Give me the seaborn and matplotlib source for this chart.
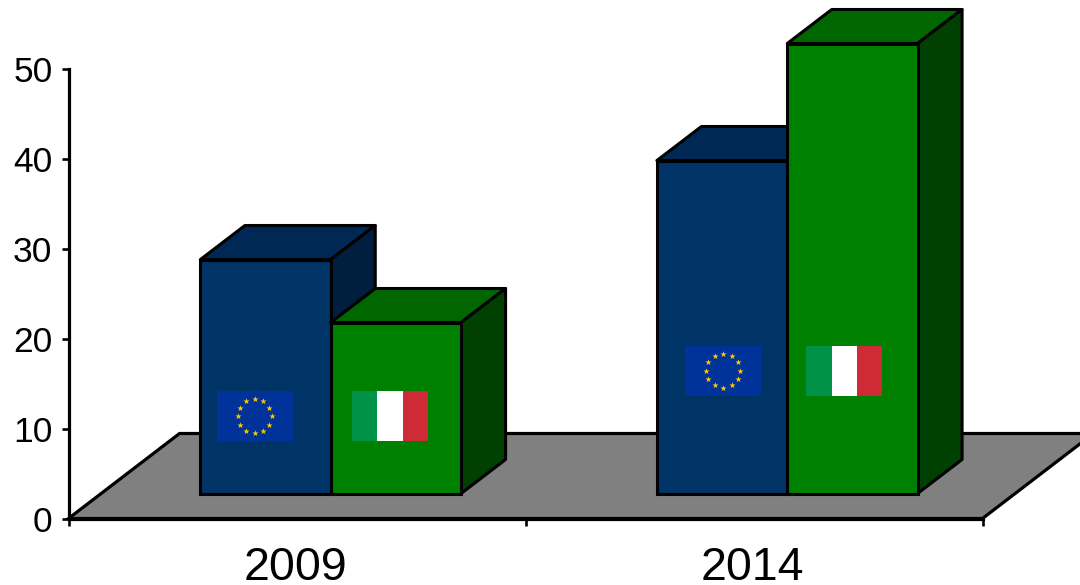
import matplotlib

matplotlib.use("Agg")
import matplotlib.pyplot as plt
import numpy as np
import pandas as pd
import seaborn as sns
from matplotlib.patches import Polygon, Rectangle
from matplotlib.transforms import IdentityTransform, ScaledTranslation

years = ["2009", "2014"]
eu_values = [26, 37]
italy_values = [19, 50]
y_ticks = [0, 10, 20, 30, 40, 50]

W, H = 1080, 585
PIX = IdentityTransform()

sns.set_theme(style="white")
plt.rcParams["font.family"] = ["Liberation Sans", "DejaVu Sans"]

df = pd.DataFrame({
    "year": years * 2,
    "flag": ["EU"] * 2 + ["Italy"] * 2,
    "value": eu_values + italy_values,
})

fig = plt.figure(figsize=(W / 100, H / 100), dpi=100)
fig.patch.set_facecolor("white")


def axes_box(left, right, bottom_y, top_y):
    # image pixels, y measured from the top
    return [left / W, 1 - bottom_y / H, (right - left) / W, (bottom_y - top_y) / H]


ax = fig.add_axes(axes_box(68.5, 982.5, 518.5, 69))
ax.set_xlim(-0.5, 1.5)
ax.set_ylim(0, 50)
ax.set_xticks([0, 1], years)
ax.set_xticks([-0.5, 0.5, 1.5], minor=True)
ax.set_yticks(y_ticks)
ax.tick_params(axis="x", which="major", length=0, labelsize=33.5, pad=20, labelcolor="black")
ax.tick_params(axis="x", which="minor", bottom=True, length=5, width=1.9, color="black")
ax.tick_params(axis="y", left=True, length=5, width=1.9, color="black", labelsize=25.5, pad=6.5, labelcolor="black")
sns.despine(ax=ax)
for side in ("left", "bottom"):
    ax.spines[side].set_linewidth(2.3)
    ax.spines[side].set_color("black")
    ax.spines[side].set_zorder(5)

# year labels sit a touch left of the category centres
nudge = ScaledTranslation(-1.5 / 100, 0, fig.dpi_scale_trans)
for label in ax.get_xticklabels():
    label.set_transform(label.get_transform() + nudge)

# floor of the 3D box
x0, y0 = ax.transData.transform((-0.5, 0))
x1, _ = ax.transData.transform((1.5, 0))
ax.add_patch(Polygon([(x0, y0), (x0 + 111, y0 + 85), (x1 + 111, y0 + 85), (x1, y0)],
                     closed=True, facecolor="#808080", edgecolor="black", linewidth=2.3,
                     transform=PIX, clip_on=False, zorder=1))

# bars sit on a second axes, shifted back into the box
ax_bars = fig.add_axes(axes_box(69 + 33.5, 982 + 33.5, 518.5 - 25, 68.5 - 25))
ax_bars.patch.set_alpha(0)
sns.barplot(data=df, x="year", y="value", hue="flag", order=years, hue_order=["EU", "Italy"],
            palette={"EU": "#003366", "Italy": "#008000"}, width=0.571, gap=0, legend=False,
            edgecolor="black", linewidth=2.2, saturation=1, ax=ax_bars)
ax_bars.set_xlim(-0.5, 1.5)
ax_bars.set_ylim(0, 50)
ax_bars.axis("off")

DX, DY = 44.5, 34
shades = [("#002855", "#001F3F"), ("#006600", "#004000")]
for i, container in enumerate(ax_bars.containers):
    top_col, side_col = shades[i]
    for bar in container:
        bar.set_clip_on(False)
        bar.set_zorder(3 + 2 * i)
        (xa, ya), (xb, yb) = ax_bars.transData.transform(
            [(bar.get_x(), 0), (bar.get_x() + bar.get_width(), bar.get_height())])
        top = [(xa, yb), (xa + DX, yb + DY), (xb + DX, yb + DY), (xb, yb)]
        side = [(xb, ya), (xb + DX, ya + DY), (xb + DX, yb + DY), (xb, yb)]
        for pts, col in ((top, top_col), (side, side_col)):
            ax_bars.add_patch(Polygon(pts, closed=True, facecolor=col, edgecolor="black", linewidth=2.2,
                                      joinstyle="round", transform=PIX, clip_on=False, zorder=2 + 2 * i))


def italy_flag(cx, cy, z=10):
    w, h = 76, 50
    for k, col in enumerate(["#009246", "#FFFFFF", "#CE2B37"]):
        ax_bars.add_patch(Rectangle((cx - w / 2 + k * w / 3, cy - h / 2), w / 3, h, facecolor=col,
                                    edgecolor="none", transform=PIX, clip_on=False, zorder=z))


def eu_flag(cx, cy, z=10):
    w, h = 76, 50
    ax_bars.add_patch(Rectangle((cx - w / 2, cy - h / 2), w, h, facecolor="#003399",
                                edgecolor="none", transform=PIX, clip_on=False, zorder=z))
    angles = np.deg2rad(np.arange(0, 360, 30))
    ax_bars.scatter(cx + 17 * np.cos(angles), cy + 17 * np.sin(angles), marker="*", s=22, color="#FFCC00",
                    linewidths=0, transform=PIX, clip_on=False, zorder=z + 1)


# flags are placed relative to the middle of each front face (pixels)
eu_offsets = [(-11, 1), (1, 0)]
italy_offsets = [(-6, 1), (-8, 0)]
flag_y = [H - 416, H - 370.5]
for j, bar in enumerate(ax_bars.containers[0]):
    cx = ax_bars.transData.transform((bar.get_x() + bar.get_width() / 2, 0))[0]
    eu_flag(cx + eu_offsets[j][0], flag_y[j])
for j, bar in enumerate(ax_bars.containers[1]):
    cx = ax_bars.transData.transform((bar.get_x() + bar.get_width() / 2, 0))[0]
    italy_flag(cx + italy_offsets[j][0], flag_y[j])

fig.savefig("out.png", dpi=100)
plt.close(fig)
